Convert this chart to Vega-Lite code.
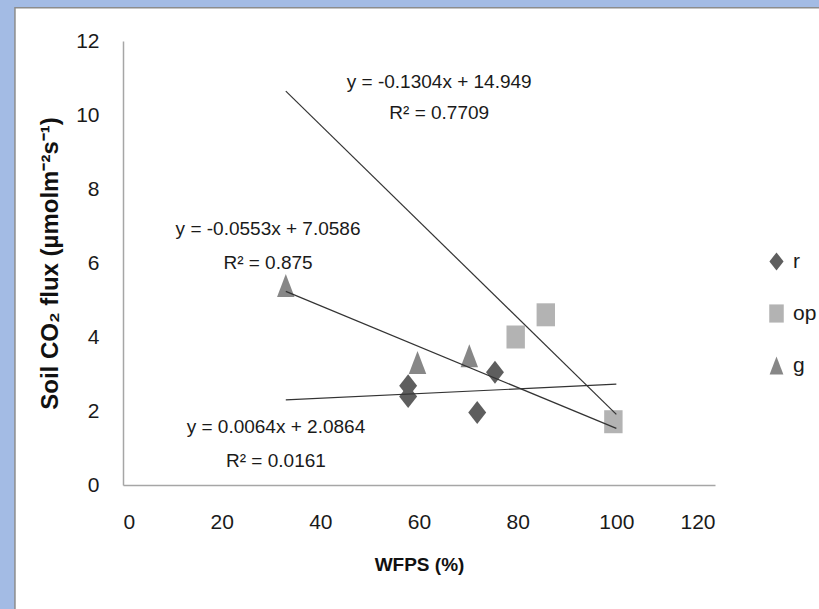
{
  "$schema": "https://vega.github.io/schema/vega-lite/v6.json",
  "width": 592,
  "height": 444,
  "autosize": {"type": "none"},
  "padding": {"left": 123, "top": 41, "right": 104, "bottom": 124},
  "background": "#a3bbe4",
  "config": {"view": {"stroke": null}, "font": "Liberation Sans", "axis": {"zindex": 1}},
  "datasets": {
    "frame": [{"k": 1}],
    "points": [
      {"series": "r", "wfps": 57.8, "flux": 2.68},
      {"series": "r", "wfps": 57.8, "flux": 2.39},
      {"series": "r", "wfps": 71.8, "flux": 1.96},
      {"series": "r", "wfps": 75.4, "flux": 3.05},
      {"series": "op", "wfps": 79.6, "flux": 4.0},
      {"series": "op", "wfps": 85.7, "flux": 4.6},
      {"series": "op", "wfps": 99.4, "flux": 1.71},
      {"series": "g", "wfps": 33.0, "flux": 5.39},
      {"series": "g", "wfps": 59.7, "flux": 3.31},
      {"series": "g", "wfps": 70.2, "flux": 3.49}
    ],
    "trends": [
      {"series": "op", "x1": 33, "y1": 10.646, "x2": 100, "y2": 1.909},
      {"series": "g", "x1": 33, "y1": 5.234, "x2": 100, "y2": 1.529},
      {"series": "r", "x1": 33, "y1": 2.298, "x2": 100, "y2": 2.726}
    ],
    "labels": [
      {"t": "y = -0.1304x + 14.949", "lx": 64.1, "ly": 10.9},
      {"t": "R² = 0.7709", "lx": 64.1, "ly": 10.05},
      {"t": "y = -0.0553x + 7.0586", "lx": 29.4, "ly": 6.93},
      {"t": "R² = 0.875", "lx": 29.4, "ly": 5.99},
      {"t": "y = 0.0064x + 2.0864", "lx": 31.0, "ly": 1.57},
      {"t": "R² = 0.0161", "lx": 31.0, "ly": 0.65}
    ]
  },
  "layer": [
    {
      "data": {"name": "frame"},
      "mark": {"type": "rect", "fill": "white", "stroke": "#8c8c8c", "strokeWidth": 1.5, "clip": false},
      "encoding": {
        "x": {"datum": -21.9, "type": "quantitative", "scale": {"domain": [0, 120], "nice": false}},
        "x2": {"datum": 150},
        "y": {"datum": 12.9, "type": "quantitative", "scale": {"domain": [0, 12], "nice": false}},
        "y2": {"datum": -5}
      }
    },
    {
      "data": {"name": "points"},
      "mark": {"type": "point", "filled": true, "opacity": 1, "size": 529, "strokeWidth": 0},
      "encoding": {
        "x": {
          "field": "wfps", "type": "quantitative",
          "scale": {"domain": [0, 120], "nice": false},
          "axis": {
            "values": [0, 20, 40, 60, 80, 100, 120], "title": "WFPS (%)", "grid": false, "ticks": false,
            "domainColor": "#a6a6a6", "domainWidth": 1.5, "labelFontSize": 21, "labelColor": "#1a1a1a",
            "labelPadding": 26, "titleFontSize": 19, "titleFontWeight": "bold", "titleColor": "#111",
            "titlePadding": 23, "zindex": 1
          }
        },
        "y": {
          "field": "flux", "type": "quantitative",
          "scale": {"domain": [0, 12], "nice": false},
          "axis": {
            "values": [0, 2, 4, 6, 8, 10, 12], "title": "Soil CO₂ flux (µmolm⁻²s⁻¹)", "grid": false, "ticks": false,
            "domainColor": "#a6a6a6", "domainWidth": 1.5, "labelFontSize": 21, "labelColor": "#1a1a1a",
            "labelPadding": 24, "titleFontSize": 24, "titleFontWeight": "bold", "titleColor": "#111",
            "titlePadding": 13, "zindex": 1
          }
        },
        "fill": {
          "field": "series", "type": "nominal",
          "scale": {"domain": ["r", "op", "g"], "range": ["#5e5e5e", "#b3b3b3", "#878787"]},
          "legend": {
            "orient": "none", "legendX": 643, "legendY": 210, "title": null,
            "labelFontSize": 21, "labelColor": "#1a1a1a", "rowPadding": 30, "symbolSize": 330,
            "symbolStrokeWidth": 0, "labelOffset": 6
          }
        },
        "shape": {
          "field": "series", "type": "nominal",
          "scale": {
            "domain": ["r", "op", "g"],
            "range": ["M0,-1L0.78,0L0,1L-0.78,0Z", "M-0.8,-1L0.8,-1L0.8,1L-0.8,1Z", "M0,-1L0.76,1L-0.76,1Z"]
          },
          "legend": {
            "orient": "none", "legendX": 643, "legendY": 210, "title": null,
            "labelFontSize": 21, "labelColor": "#1a1a1a", "rowPadding": 30, "symbolSize": 330,
            "symbolStrokeWidth": 0, "labelOffset": 6
          }
        }
      }
    },
    {
      "data": {"name": "trends"},
      "mark": {"type": "rule", "color": "#333333", "strokeWidth": 1.2},
      "encoding": {
        "x": {"field": "x1", "type": "quantitative"},
        "y": {"field": "y1", "type": "quantitative"},
        "x2": {"field": "x2"},
        "y2": {"field": "y2"}
      }
    },
    {
      "data": {"name": "labels"},
      "mark": {"type": "text", "fontSize": 19, "color": "#1a1a1a", "align": "center", "baseline": "middle"},
      "encoding": {
        "x": {"field": "lx", "type": "quantitative"},
        "y": {"field": "ly", "type": "quantitative"},
        "text": {"field": "t"}
      }
    }
  ]
}
